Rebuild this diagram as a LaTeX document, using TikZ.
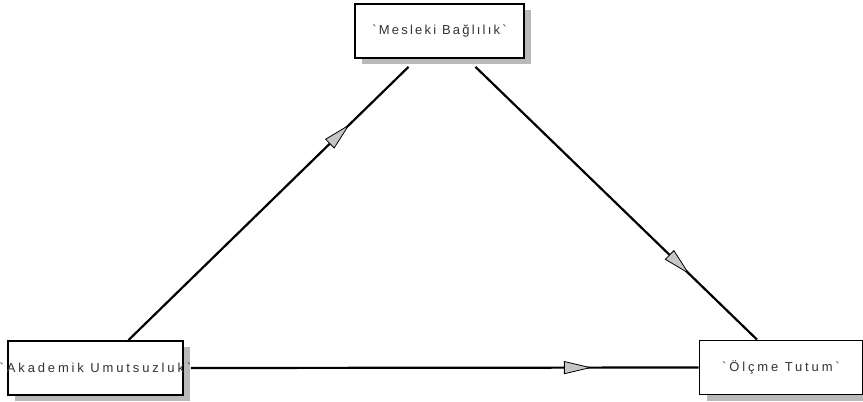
\documentclass[tikz,border=0pt]{standalone}
\usepackage{fontspec}
\newfontfamily\boxfont[LetterSpace=17]{Liberation Sans}
\usetikzlibrary{shadows,decorations.markings,arrows.meta}

\tikzset{
  varbox/.style={draw, line width=1.8pt, fill=white, minimum height=54pt,
    inner sep=0pt, text=black!80, font=\boxfont\fontsize{13}{15}\selectfont,
    drop shadow={shadow xshift=7pt, shadow yshift=-6pt, fill=gray!55, opacity=1}},
  link/.style={line width=2.2pt, postaction=decorate},
  midarrow/.style={decoration={markings, mark=at position #1 with
    {\arrow[line width=0.8pt]{Triangle[length=28pt,width=13pt,fill=gray!45]}}}}
}

\begin{document}
\begin{tikzpicture}[x=1pt,y=-1pt]
  \useasboundingbox (0,0) rectangle (863,402);
  % kutular
  \node[varbox, minimum width=169pt] (mesleki) at (439.5,31) {`Mesleki Bağlılık`};
  \node[varbox, minimum width=175pt] (akademik) at (95.5,368)
    {\makebox[0pt]{\addfontfeature{LetterSpace=22}`Akademik Umutsuzluk`}};
  \node[varbox, minimum width=163pt] (olcme) at (781,367.5)
    {\addfontfeature{LetterSpace=22}`Ölçme Tutum`};
  % yollar
  \draw[link, midarrow=0.79] ([xshift=33pt]akademik.north) -- ([xshift=-31pt,yshift=-8pt]mesleki.south);
  \draw[link, midarrow=0.76] ([xshift=36pt,yshift=-8pt]mesleki.south) -- ([xshift=-24pt]olcme.north);
  \draw[link, midarrow=0.79] ([xshift=7pt]akademik.east) -- (olcme.west);
\end{tikzpicture}
\end{document}
